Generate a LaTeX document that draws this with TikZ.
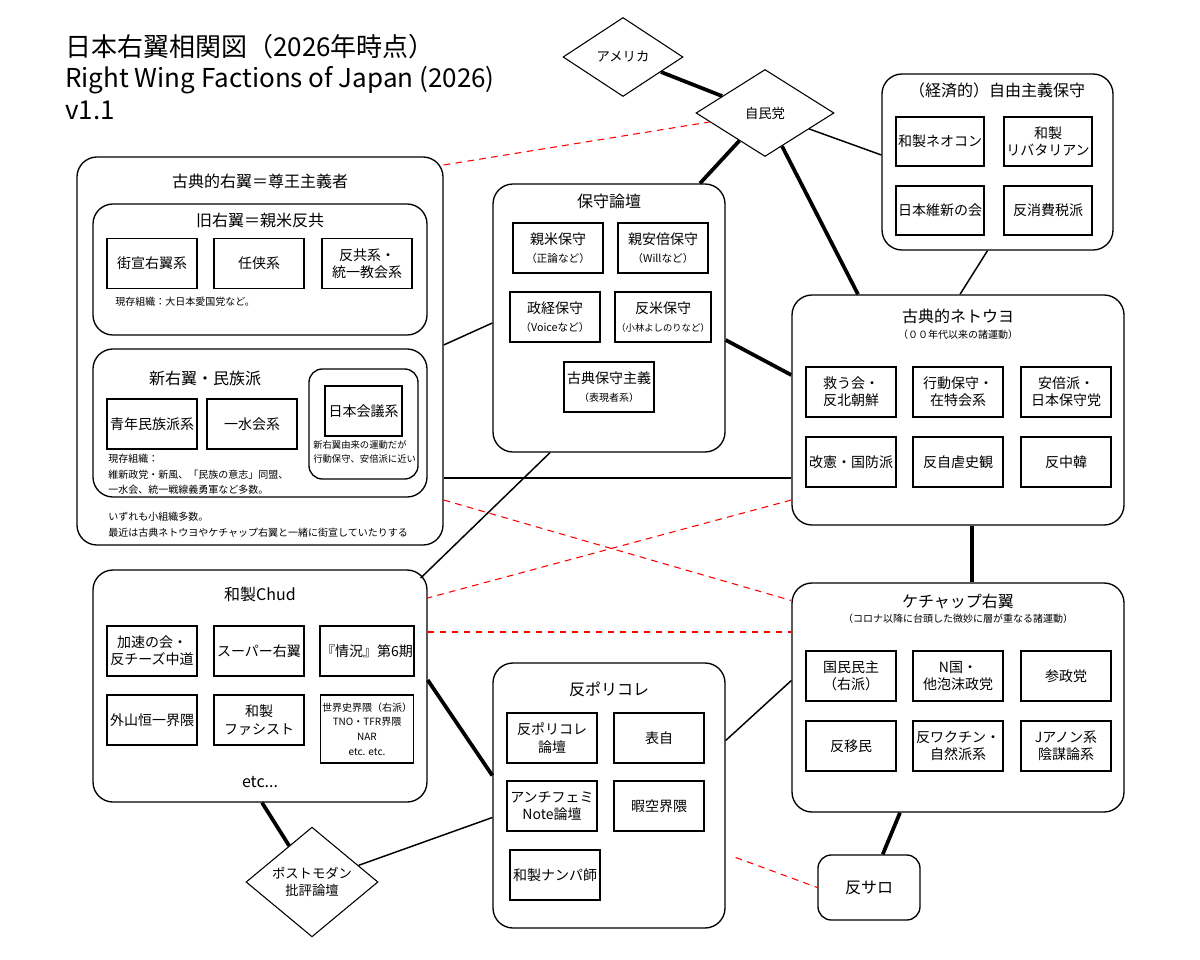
\documentclass[tikz,border=0pt]{standalone}
\usepackage{fontspec}
\setmainfont{Noto Sans CJK JP}
\usetikzlibrary{shapes.geometric,calc}
\newcommand{\px}[1]{#1*0.75pt}
\begin{document}
\begin{tikzpicture}[x=0.75pt,y=-0.75pt,
  cont/.style={draw,line width=1pt,rounded corners=15pt,fill=white},
  box/.style={draw,line width=1.1pt,fill=white,align=center,font=\fontsize{10.5}{13}\selectfont,minimum width=\px{90},minimum height=\px{50},inner sep=1pt},
  sub/.style={font=\fontsize{7.5}{10}\selectfont},
  ttl/.style={font=\fontsize{12}{14}\selectfont},
  note/.style={font=\fontsize{7.5}{11.5}\selectfont,align=left,anchor=north west,inner sep=0pt},
  dia/.style={draw,line width=0.8pt,diamond,fill=white,align=center,font=\fontsize{10}{13}\selectfont,inner sep=0pt},
  thin/.style={line width=1.1pt},
  thick/.style={line width=2.8pt},
  red/.style={draw=red,line width=0.8pt,dash pattern=on 5pt off 4pt}]
\useasboundingbox (0,0) rectangle (1200,960);
% title
\node[anchor=west,font=\fontsize{19.5}{23}\selectfont,inner sep=0pt] (t1) at (65,47) {日本右翼相関図（2026年時点）};
\node[anchor=west,font=\fontsize{19.5}{23}\selectfont,inner sep=0pt] (t2) at (65,80) {Right Wing Factions of Japan (2026)};
\node[anchor=west,font=\fontsize{19.5}{23}\selectfont,inner sep=0pt] (t3) at (65,110) {v1.1};

% containers
\node[cont,minimum width=\px{366},minimum height=\px{388}] (kr) at (260,351) {};
\node[cont,minimum width=\px{232},minimum height=\px{268}] (hs) at (609,318) {};
\node[cont,minimum width=\px{231},minimum height=\px{176}] (kz) at (997.5,162) {};
\node[cont,minimum width=\px{332},minimum height=\px{230}] (nt) at (958,410) {};
\node[cont,minimum width=\px{334},minimum height=\px{232}] (chud) at (260,686) {};
\node[cont,minimum width=\px{332},minimum height=\px{229}] (kc) at (958,697.5) {};
\node[cont,minimum width=\px{232},minimum height=\px{265}] (pc) at (609,795.5) {};
\node[cont,rounded corners=10pt,minimum width=\px{102},minimum height=\px{65},font=\fontsize{12}{14}\selectfont] (sa) at (869,887.5) {反サロ};
\node[dia,minimum width=\px{120},minimum height=\px{79}] (am) at (623,57) {アメリカ};
\node[dia,minimum width=\px{138},minimum height=\px{87}] (ld) at (765,113) {自民党};
\node[dia,minimum width=\px{132},minimum height=\px{85}] (pm) at (312,882) {ポストモダン\\批評論壇};

% connectors
\draw[thick] (am) -- (ld);
\draw[thick] (ld) -- ($(hs.north)+(91,0)$);
\draw[thick] (ld) -- ($(nt.north)+(-100,0)$);
\draw[thin] (ld) -- ($(kz.west)+(0,-7)$);
\draw[thin] ($(kz.south)+(-10,0)$) -- ($(nt.north)+(2,0)$);
\draw[red] ($(kr.east)+(0,-186)$) -- (ld);
\draw[thin] ($(kr.east)+(0,-6)$) -- ($(hs.west)+(0,5)$);
\draw[thin] ($(kr.east)+(0,127)$) -- ($(nt.west)+(0,68)$);
\draw[red] ($(kr.east)+(0,149)$) -- ($(kc.west)+(0,-97)$);
\draw[thick] ($(hs.east)+(0,22)$) -- ($(nt.west)+(0,-35)$);
\draw[thin] ($(hs.south)+(-59,0)$) -- ($(chud.east)+(-7,-108)$);
\draw[thick] ($(nt.south)+(14,0)$) -- ($(kc.north)+(14,0)$);
\draw[red] ($(nt.west)+(0,90)$) -- ($(chud.east)+(0,-88)$);
\draw[red] ($(chud.east)+(0,-54)$) -- ($(kc.west)+(0,-65.5)$);
\draw[thick] ($(chud.east)+(0,-6)$) -- ($(pc.west)+(0,-20)$);
\draw[thick] ($(chud.south)+(2,0)$) -- (pm);
\draw[thin] ($(kc.west)+(0,-17)$) -- ($(pc.east)+(0,-55)$);
\draw[thick] ($(kc.south)+(-58,0)$) -- (sa);
\draw[red] ($(pc.east)+(10,62)$) -- (sa.west);
\draw[thin] ($(pc.west)+(0,22)$) -- (pm);

% 古典的右翼
\node[ttl] (krt) at (260,181) {古典的右翼＝尊王主義者};
\node[cont,minimum width=\px{334},minimum height=\px{131}] (kyu) at (260,269.5) {};
\node[ttl] (kyut) at (260,220) {旧右翼＝親米反共};
\node[box] (k1) at (152,263.5) {街宣右翼系};
\node[box] (k2) at (259,263.5) {任侠系};
\node[box] (k3) at (367,263.5) {反共系・\\統一教会系};
\node[note] (kn) at (115,297) {現存組織：大日本愛国党など。};
\node[cont,minimum width=\px{334},minimum height=\px{148}] (shin) at (260,423) {};
\node[ttl] (shint) at (205,378) {新右翼・民族派};
\node[box] (s1) at (152,424) {青年民族派系};
\node[box] (s2) at (252,424) {一水会系};
\node[cont,rounded corners=10pt,minimum width=\px{109},minimum height=\px{110}] (nk) at (363.5,424) {};
\node[box,minimum width=\px{77}] (s3) at (363.5,411) {日本会議系};
\node[note,font=\fontsize{7}{11}\selectfont] (nkn) at (313,440) {新右翼由来の運動だが\\行動保守、安倍派に近い};
\node[note] (sn) at (108,454) {現存組織：\\維新政党・新風、「民族の意志」同盟、\\一水会、統一戦線義勇軍など多数。};
\node[note] (krn) at (108,512) {いずれも小組織多数。\\最近は古典ネトウヨやケチャップ右翼と一緒に街宣していたりする};

% 保守論壇
\node[ttl] (hst) at (609,201) {保守論壇};
\node[box] (h1) at (558,248) {親米保守\\{\fontsize{8}{11}\selectfont（正論など）}};
\node[box] (h2) at (663,248) {親安倍保守\\{\fontsize{8}{11}\selectfont（Willなど）}};
\node[box] (h3) at (555,317) {政経保守\\{\fontsize{8}{11}\selectfont（Voiceなど）}};
\node[box] (h4) at (663,317) {反米保守\\{\fontsize{7}{11}\selectfont（小林よしのりなど）}};
\node[box] (h5) at (609,387) {古典保守主義\\{\fontsize{7.5}{11}\selectfont（表現者系）}};

% 経済的
\node[ttl] (kzt) at (997,90) {（経済的）自由主義保守};
\node[box,minimum width=\px{88},minimum height=\px{49}] (z1) at (940,141.5) {和製ネオコン};
\node[box,minimum width=\px{88},minimum height=\px{49}] (z2) at (1048,141.5) {和製\\リバタリアン};
\node[box,minimum width=\px{88},minimum height=\px{49}] (z3) at (940,210.5) {日本維新の会};
\node[box,minimum width=\px{88},minimum height=\px{49}] (z4) at (1048,210.5) {反消費税派};

% 古典的ネトウヨ
\node[ttl] (ntt) at (958,316) {古典的ネトウヨ};
\node[sub] (nts) at (958,335) {（００年代以来の諸運動）};
\node[box] (n1) at (851,392) {救う会・\\反北朝鮮};
\node[box] (n2) at (958,392) {行動保守・\\在特会系};
\node[box] (n3) at (1066,392) {安倍派・\\日本保守党};
\node[box] (n4) at (851,462) {改憲・国防派};
\node[box] (n5) at (958,462) {反自虐史観};
\node[box] (n6) at (1066,462) {反中韓};

% 和製Chud
\node[ttl] (cht) at (260,594) {和製Chud};
\node[box] (c1) at (152,651) {加速の会・\\反チーズ中道};
\node[box] (c2) at (259,651) {スーパー右翼};
\node[box] (c3) at (367,651) {『情況』第6期};
\node[box] (c4) at (152,720) {外山恒一界隈};
\node[box] (c5) at (259,720) {和製\\ファシスト};
\node[box,minimum height=\px{68},font=\fontsize{7.5}{11}\selectfont] (c6) at (367,729) {世界史界隈（右派）\\TNO・TFR界隈\\NAR\\etc. etc.};
\node[ttl] (che) at (260,782) {etc...};

% ケチャップ右翼
\node[ttl] (kct) at (958,601) {ケチャップ右翼};
\node[sub] (kcs) at (958,619) {（コロナ以降に台頭した微妙に層が重なる諸運動）};
\node[box] (p1) at (851,676) {国民民主\\（右派）};
\node[box] (p2) at (958,676) {N国・\\他泡沫政党};
\node[box] (p3) at (1066,676) {参政党};
\node[box] (p4) at (851,746) {反移民};
\node[box] (p5) at (958,746) {反ワクチン・\\自然派系};
\node[box] (p6) at (1066,746) {Jアノン系\\陰謀論系};

% 反ポリコレ
\node[ttl] (pct) at (609,689) {反ポリコレ};
\node[box] (q1) at (552,738) {反ポリコレ\\論壇};
\node[box] (q2) at (659,738) {表自};
\node[box] (q3) at (552,806) {アンチフェミ\\Note論壇};
\node[box] (q4) at (659,806) {暇空界隈};
\node[box] (q5) at (555,875) {和製ナンパ師};
\end{tikzpicture}
\end{document}
